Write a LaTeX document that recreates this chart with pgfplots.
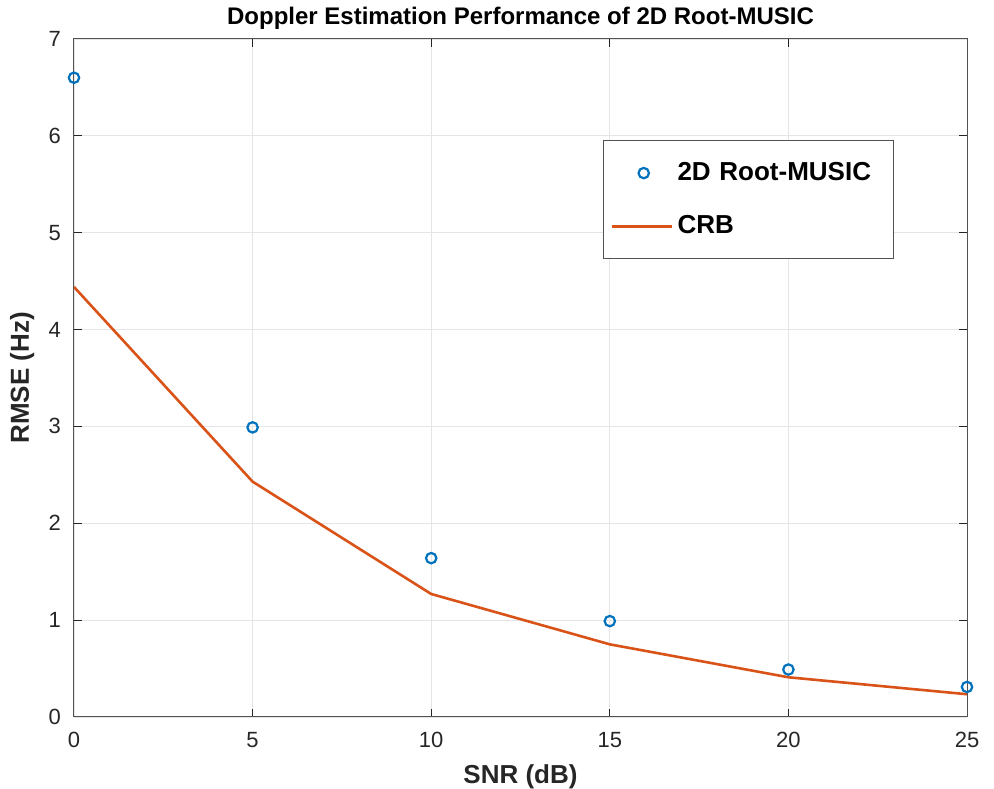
\documentclass[border=0pt]{standalone}
\usepackage{fontspec}
\setmainfont{Liberation Sans}
\usepackage{pgfplots}
\pgfplotsset{compat=1.18}
\definecolor{mblue}{rgb}{0,0.447,0.741}
\definecolor{morange}{rgb}{0.85,0.325,0.098}
\definecolor{axgray}{rgb}{0.15,0.15,0.15}
\begin{document}
\begin{tikzpicture}
\begin{axis}[
  scale only axis,
  width=446.5pt, height=339pt,
  xmin=0, xmax=25, ymin=0, ymax=7,
  xtick={0,5,10,15,20,25}, ytick={0,1,2,3,4,5,6,7},
  grid=major,
  major grid style={draw=black!10, line width=0.4pt},
  axis line style={draw=axgray!80, line width=0.5pt},
  tick style={draw=axgray, line width=0.5pt},
  tick align=inside,
  major tick length=4pt,
  /pgf/number format/assume math mode=true,
  ticklabel style={font=\fontsize{11}{13}\selectfont, text=axgray},
  xticklabel style={yshift=-4pt},
  yticklabel style={xshift=-3pt},
  xlabel={\textbf{SNR (dB)}},
  ylabel={\textbf{RMSE (Hz)}},
  label style={font=\fontsize{13}{15}\selectfont, text=axgray},
  xlabel style={at={(axis description cs:0.5,0)}, anchor=center, yshift=-30pt},
  ylabel style={at={(axis description cs:-0.058,0.5)}, anchor=center},
  every axis title shift=0pt,
  title={\textbf{Doppler Estimation Performance of 2D Root-MUSIC}},
  title style={font=\fontsize{12}{14}\selectfont, at={(axis description cs:0.5,1)}, anchor=center, yshift=10.5pt},
  legend style={at={(axis description cs:0.592,0.851)}, anchor=north west,
    draw=axgray!80, line width=0.5pt, fill=white,
    font=\fontsize{13}{15}\selectfont\bfseries,
    inner xsep=4pt, inner ysep=9pt,
    row sep=12pt,
    text width=102pt},
  legend cell align=left,
  legend image code/.code={\draw[#1] (0cm,0cm) -- (1.05cm,0cm);},
]
\addplot[only marks, mark=o, mark size=2.6pt, draw=mblue, line width=1.1pt,
  legend image code/.code={\draw[mblue, line width=1.1pt] (0.55cm,0cm) circle (2.6pt);}]
  coordinates {(0,6.60) (5,2.99) (10,1.64) (15,0.99) (20,0.49) (25,0.31)};
\addlegendentry{2D Root-MUSIC}
\addplot[morange, line width=1.3pt, mark=none]
  coordinates {(0,4.44) (5,2.43) (10,1.27) (15,0.75) (20,0.41) (25,0.235)};
\addlegendentry{CRB}
\end{axis}
\pgfresetboundingbox
\path ([shift={(-37pt,-36pt)}]current axis.south west) rectangle ([shift={(13.5pt,19.5pt)}]current axis.north east);
\end{tikzpicture}
\end{document}
